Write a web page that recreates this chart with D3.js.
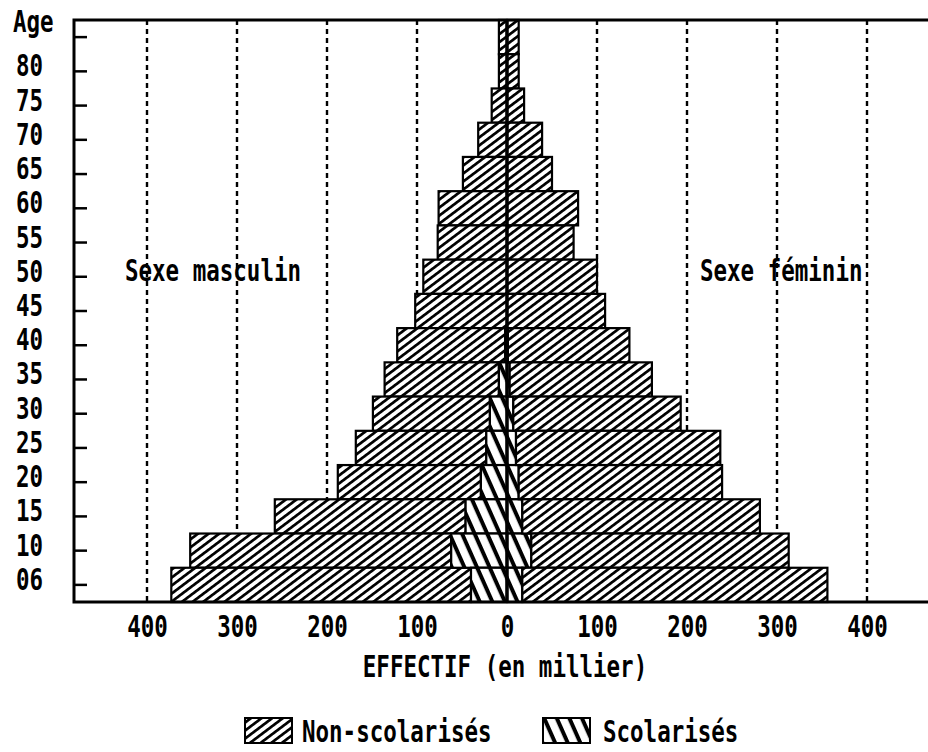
<!DOCTYPE html>
<html>
<head>
<meta charset="utf-8">
<script src="https://cdn.jsdelivr.net/npm/d3@7"></script>
<style>
body { margin: 0; background: #fff; }
text { font-family: "DejaVu Sans Mono", monospace; font-weight: bold; font-size: 22.5px; fill: #000; }
</style>
</head>
<body>
<svg width="928" height="752"></svg>
<script>
// age groups, top to bottom (top group has no label)
var ages = ["85", "80", "75", "70", "65", "60", "55", "50", "45", "40", "35", "30", "25", "20", "15", "10", "06"];

// effectif en milliers
var menNonScol   = [9, 9, 17, 32, 49, 76, 77, 93, 102, 120, 127, 130, 145, 159, 212, 290, 333];
var menScol      = [0, 0, 0, 0, 0, 0, 0, 0, 0, 2, 9, 19, 23, 29, 46, 62, 40];
var womenNonScol = [13, 13, 19, 39, 50, 79, 74, 100, 109, 135, 158, 186, 227, 226, 264, 286, 339];
var womenScol    = [0, 0, 0, 0, 0, 0, 0, 0, 0, 1, 3, 7, 10, 13, 17, 27, 17];

var xTicks = [-400, -300, -200, -100, 0, 100, 200, 300, 400];
var gridTicks = [-400, -300, -200, -100, 100, 200, 300, 400];

var svg = d3.select("svg"),
    plotLeft = 74, plotRight = 928, plotTop = 20, plotBottom = 602,
    sy = 1.35; // vertical stretch of the old printer font

var x = d3.scaleLinear().domain([-400, 400]).range([147, 867]);
var y = d3.scaleBand().domain(ages).range([plotTop, plotBottom]);

var rows = ages.map(function (a, i) {
  return { age: a, mn: menNonScol[i], ms: menScol[i], wn: womenNonScol[i], ws: womenScol[i] };
});

// hatch patterns
var defs = svg.append("defs");
function hatch(id, angle, period, thick) {
  var p = defs.append("pattern")
    .attr("id", id)
    .attr("patternUnits", "userSpaceOnUse")
    .attr("width", 20).attr("height", period)
    .attr("patternTransform", "rotate(" + angle + ")");
  p.append("rect").attr("width", 20).attr("height", period).attr("fill", "#fff");
  p.append("rect").attr("width", 20).attr("height", thick).attr("fill", "#000");
}
hatch("nonscol", -37, 6.4, 2.7);
hatch("scol", 66, 11.5, 4);

function stretchText(px, py, str, anchor) {
  svg.append("text")
    .attr("transform", "translate(" + px + "," + py + ") scale(1," + sy + ")")
    .attr("text-anchor", anchor || "start")
    .text(str);
}

// dotted grid
svg.append("g")
  .selectAll("line")
  .data(gridTicks)
  .enter()
  .append("line")
  .attr("x1", function (d) { return x(d); })
  .attr("x2", function (d) { return x(d); })
  .attr("y1", plotTop)
  .attr("y2", plotBottom)
  .attr("stroke", "#000")
  .attr("stroke-width", 2.4)
  .attr("stroke-dasharray", "5,4");

// bars
var bars = svg.append("g").attr("stroke", "#000").attr("stroke-width", 2.2);

bars.selectAll(".men-non")
  .data(rows)
  .enter()
  .append("rect")
  .attr("class", "men-non")
  .attr("x", function (d) { return x(-(d.ms + d.mn)); })
  .attr("y", function (d) { return y(d.age); })
  .attr("width", function (d) { return x(-d.ms) - x(-(d.ms + d.mn)); })
  .attr("height", y.bandwidth())
  .attr("fill", "url(#nonscol)");

bars.selectAll(".men-scol")
  .data(rows.filter(function (d) { return d.ms > 0; }))
  .enter()
  .append("rect")
  .attr("class", "men-scol")
  .attr("x", function (d) { return x(-d.ms); })
  .attr("y", function (d) { return y(d.age); })
  .attr("width", function (d) { return x(0) - x(-d.ms); })
  .attr("height", y.bandwidth())
  .attr("fill", "url(#scol)");

bars.selectAll(".women-scol")
  .data(rows.filter(function (d) { return d.ws > 0; }))
  .enter()
  .append("rect")
  .attr("class", "women-scol")
  .attr("x", x(0))
  .attr("y", function (d) { return y(d.age); })
  .attr("width", function (d) { return x(d.ws) - x(0); })
  .attr("height", y.bandwidth())
  .attr("fill", "url(#scol)");

bars.selectAll(".women-non")
  .data(rows)
  .enter()
  .append("rect")
  .attr("class", "women-non")
  .attr("x", function (d) { return x(d.ws); })
  .attr("y", function (d) { return y(d.age); })
  .attr("width", function (d) { return x(d.ws + d.wn) - x(d.ws); })
  .attr("height", y.bandwidth())
  .attr("fill", "url(#nonscol)");

// centre line
svg.append("line")
  .attr("x1", x(0)).attr("x2", x(0))
  .attr("y1", plotTop).attr("y2", plotBottom)
  .attr("stroke", "#000").attr("stroke-width", 3.5);

// frame
svg.append("path")
  .attr("d", "M" + plotRight + "," + plotTop + "H" + plotLeft + "V" + plotBottom + "H" + plotRight)
  .attr("fill", "none")
  .attr("stroke", "#000")
  .attr("stroke-width", 3);

// x axis
svg.append("g")
  .attr("transform", "translate(0," + plotBottom + ")")
  .call(d3.axisBottom(x).tickValues(xTicks).tickFormat(function (d) { return Math.abs(d); }).tickSize(0))
  .call(function (g) { g.select(".domain").remove(); })
  .selectAll("text")
  .attr("y", 35 / sy)
  .attr("dy", 0)
  .attr("transform", "scale(1," + sy + ")");

// y axis, ticks pointing inwards
svg.append("g")
  .attr("transform", "translate(" + plotLeft + ",0)")
  .call(d3.axisLeft(y).tickSizeInner(-13).tickSizeOuter(0).tickPadding(31)
    .tickFormat(function (d) { return d === "85" ? "" : d; }))
  .call(function (g) { g.select(".domain").remove(); })
  .call(function (g) { g.selectAll(".tick line").attr("stroke-width", 2.5); })
  .selectAll("text")
  .attr("dy", 0)
  .attr("y", 5 / sy)
  .attr("transform", "scale(1," + sy + ")");

stretchText(13, 32, "Age");
stretchText(125, 281, "Sexe masculin");
stretchText(700, 281, "Sexe féminin");
stretchText(x(0) - 2, 677, "EFFECTIF (en millier)", "middle");

// legend
var legend = [
  { label: "Non-scolarisés", fill: "url(#nonscol)", bx: 245, tx: 302 },
  { label: "Scolarisés", fill: "url(#scol)", bx: 543, tx: 603 }
];
legend.forEach(function (d) {
  svg.append("rect")
    .attr("x", d.bx).attr("y", 718)
    .attr("width", 47).attr("height", 25)
    .attr("fill", d.fill)
    .attr("stroke", "#000").attr("stroke-width", 2);
  stretchText(d.tx, 742, d.label);
});
</script>
</body>
</html>
